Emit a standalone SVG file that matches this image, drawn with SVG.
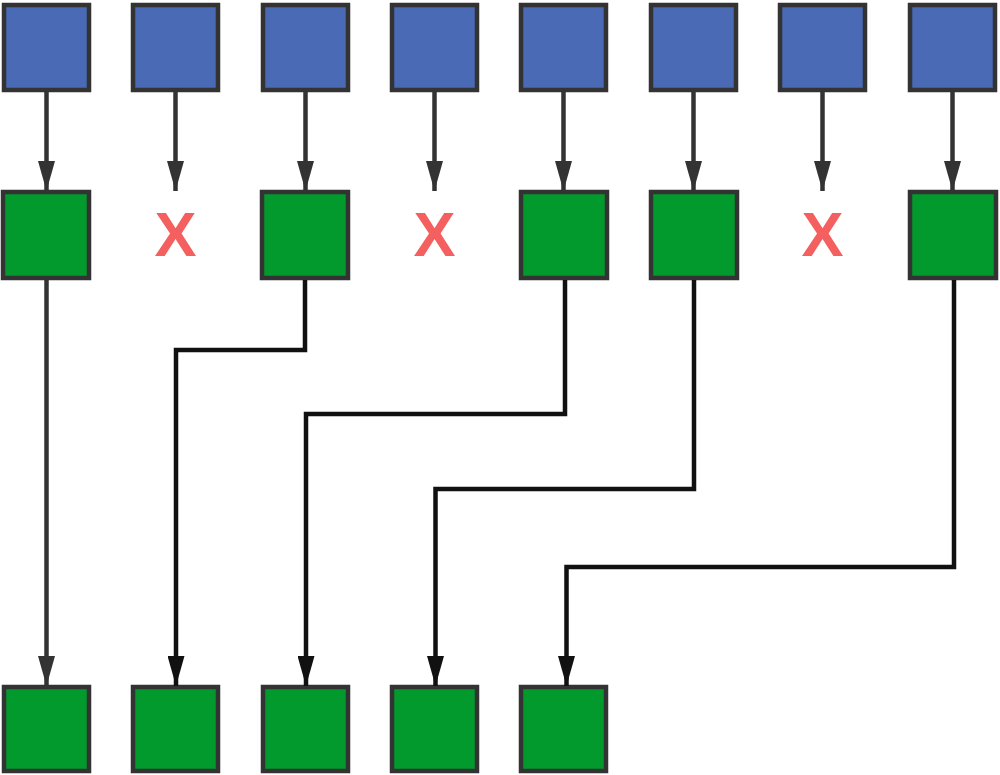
<svg xmlns="http://www.w3.org/2000/svg" width="1000" height="775" viewBox="0 0 1000 775">
<defs>
<style>
.blue{fill:#4a6ab6;stroke:#333;stroke-width:4.5}
.green{fill:#039a2d;stroke:#333;stroke-width:4.5}
.a1{fill:none;stroke:#333;stroke-width:4.5}
.a2{fill:none;stroke:#111;stroke-width:4.5}
.x{font-family:"Liberation Sans",Arial,sans-serif;font-weight:bold;font-size:63px;fill:#f45f5f;text-anchor:middle}
</style>
<marker id="h1" markerUnits="userSpaceOnUse" markerWidth="30" markerHeight="17" refX="30" refY="8.5" orient="auto" viewBox="0 0 30 17"><path d="M0,0 L30,8.5 L0,17 Z" fill="#333"/></marker>
<marker id="h2" markerUnits="userSpaceOnUse" markerWidth="30" markerHeight="17" refX="30" refY="8.5" orient="auto" viewBox="0 0 30 17"><path d="M0,0 L30,8.5 L0,17 Z" fill="#111"/></marker>
</defs>
<g id="top">
<g id="t1"><rect class="blue" x="4" y="5" width="85" height="85"/></g>
<g id="t2"><rect class="blue" x="133" y="5" width="85" height="85"/></g>
<g id="t3"><rect class="blue" x="263" y="5" width="85" height="85"/></g>
<g id="t4"><rect class="blue" x="392" y="5" width="85" height="85"/></g>
<g id="t5"><rect class="blue" x="521" y="5" width="85" height="85"/></g>
<g id="t6"><rect class="blue" x="651" y="5" width="85" height="85"/></g>
<g id="t7"><rect class="blue" x="780" y="5" width="85" height="85"/></g>
<g id="t8"><rect class="blue" x="910" y="5" width="85" height="85"/></g>
</g>
<g id="middle">
<g id="m1"><rect class="green" x="3" y="192" width="86" height="86"/></g>
<g id="m2"><text class="x" x="175.5" y="256">X</text></g>
<g id="m3"><rect class="green" x="262" y="192" width="86" height="86"/></g>
<g id="m4"><text class="x" x="434.5" y="256">X</text></g>
<g id="m5"><rect class="green" x="521" y="192" width="86" height="86"/></g>
<g id="m6"><rect class="green" x="651" y="192" width="86" height="86"/></g>
<g id="m7"><text class="x" x="822.5" y="256">X</text></g>
<g id="m8"><rect class="green" x="910" y="192" width="86" height="86"/></g>
</g>
<g id="bottom">
<g id="b1"><rect class="green" x="4" y="687" width="85" height="84"/></g>
<g id="b2"><rect class="green" x="133" y="687" width="85" height="84"/></g>
<g id="b3"><rect class="green" x="263" y="687" width="85" height="84"/></g>
<g id="b4"><rect class="green" x="392" y="687" width="85" height="84"/></g>
<g id="b5"><rect class="green" x="521" y="687" width="85" height="84"/></g>
</g>
<g id="connectors">
<path class="a1" d="M46.5,92 V191" marker-end="url(#h1)"/>
<path class="a1" d="M175.5,92 V191" marker-end="url(#h1)"/>
<path class="a1" d="M305.5,92 V191" marker-end="url(#h1)"/>
<path class="a1" d="M434.5,92 V191" marker-end="url(#h1)"/>
<path class="a1" d="M563.5,92 V191" marker-end="url(#h1)"/>
<path class="a1" d="M693.5,92 V191" marker-end="url(#h1)"/>
<path class="a1" d="M822.5,92 V191" marker-end="url(#h1)"/>
<path class="a1" d="M952.5,92 V191" marker-end="url(#h1)"/>
<path class="a1" d="M46.5,280 V686" marker-end="url(#h1)"/>
<path class="a2" d="M305,280 V350 H176 V686" marker-end="url(#h2)"/>
<path class="a2" d="M565,280 V414 H306 V686" marker-end="url(#h2)"/>
<path class="a2" d="M694,280 V489 H435.5 V686" marker-end="url(#h2)"/>
<path class="a2" d="M954,280 V567 H566.5 V686" marker-end="url(#h2)"/>
</g>
</svg>
